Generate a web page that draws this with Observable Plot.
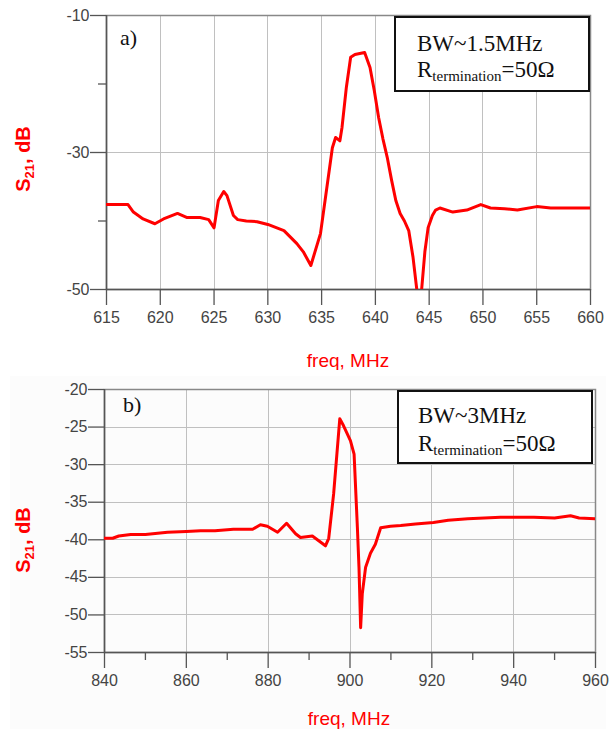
<!DOCTYPE html>
<html>
<head>
<meta charset="utf-8">
<script src="https://cdn.jsdelivr.net/npm/d3@7"></script>
<script src="https://cdn.jsdelivr.net/npm/@observablehq/plot@0.6"></script>
<style>
  html, body { margin: 0; padding: 0; background: #fff; }
  #wrap { position: relative; width: 613px; height: 729px; overflow: hidden; }
  #bg { position: absolute; left: 10px; top: 376px; width: 596px; height: 353px; background: #fcfcfc; }
  #wrap svg { position: absolute; left: 0; }
</style>
</head>
<body>
<div id="wrap"><div id="bg"></div></div>
<script>
// ---- Panel a) data ----
const freqA = [615, 617, 617.5, 618.4, 619.5, 620.3, 621.6, 622.5, 623.7, 624.5, 625, 625.4, 625.9, 626.2, 626.8, 627.2, 628, 629, 630, 631.5, 632.7, 633.3, 634, 634.9, 636, 636.3, 636.7, 636.9, 637.3, 637.7, 638.1, 639, 639.5, 639.9, 640.3, 640.7, 641.1, 641.5, 641.9, 642.3, 642.7, 643.1, 643.5, 643.85, 644.05, 644.3, 644.6, 644.9, 645.3, 645.6, 646, 647.2, 648.5, 649.8, 650.7, 652, 653.2, 655, 656.3, 658, 660];
const s21A  = [-37.6, -37.6, -38.7, -39.7, -40.4, -39.7, -38.9, -39.5, -39.5, -39.8, -41.0, -37.0, -35.7, -36.3, -39.2, -39.8, -40.0, -40.1, -40.5, -41.4, -43.3, -44.5, -46.5, -41.8, -29.3, -27.8, -28.3, -26.3, -20.5, -16.1, -15.7, -15.4, -17.6, -21.0, -24.9, -28.0, -30.7, -34.0, -37.0, -38.9, -40.0, -41.4, -45.3, -50.0, -65.0, -50.0, -44.5, -41.0, -39.2, -38.4, -38.1, -38.7, -38.4, -37.6, -38.1, -38.2, -38.4, -37.9, -38.1, -38.1, -38.1];
const xTicksA = [615, 620, 625, 630, 635, 640, 645, 650, 655, 660];
const yTicksA = [-10, -30, -50];
const yMinorA = [-20, -40];

// ---- Panel b) data ----
const freqB = [840, 842, 843.5, 846.4, 850, 855.4, 860, 863.5, 867, 871.5, 876.2, 878.1, 879.8, 882.3, 884.5, 886.7, 887.9, 890.8, 894, 894.8, 896, 897.5, 898.4, 900.1, 901, 901.8, 902.2, 902.6, 903, 903.8, 905, 906.2, 907.5, 909.9, 912.4, 916, 920.4, 924, 928.8, 936.8, 944.9, 950, 953.9, 956, 960];
const s21B  = [-39.8, -39.8, -39.5, -39.3, -39.3, -39.0, -38.9, -38.8, -38.8, -38.6, -38.6, -38.0, -38.2, -39.0, -37.8, -39.2, -39.7, -39.5, -40.8, -39.8, -33.9, -23.9, -24.8, -26.8, -28.6, -38.3, -43.7, -51.7, -47.2, -43.7, -41.8, -40.6, -38.4, -38.2, -38.1, -37.9, -37.7, -37.4, -37.2, -37.0, -37.0, -37.1, -36.8, -37.1, -37.2];
const xTicksB = [840, 860, 880, 900, 920, 940, 960];
const xMinorB = [850, 870, 890, 910, 930, 950];
const yTicksB = [-20, -25, -30, -35, -40, -45, -50, -55];

const dataA = freqA.map((f, i) => ({f, s: s21A[i]}));
const dataB = freqB.map((f, i) => ({f, s: s21B[i]}));

const FONT = "Liberation Sans, Arial, sans-serif";
const SERIF = "Liberation Serif, Times New Roman, serif";
const RED = "#ff0000";
const GRIDC = "#c0c0c0";
const AX = "#555";

function panel({data, xDomain, yDomain, xTicks, xMinor, yTicks, yMinor, height, margins}) {
  const marks = [
    Plot.frame({stroke: "#888", strokeWidth: 1.5, fill: "none"}),
    Plot.ruleX([xDomain[0]], {stroke: AX, strokeWidth: 1.5}),
    Plot.ruleY([yDomain[0]], {stroke: AX, strokeWidth: 1.5}),
    Plot.axisX({ticks: xTicks, tickSize: 16, tickPadding: 6, fontSize: 16, label: null, stroke: AX, strokeWidth: 1.3, fill: "#444"}),
    Plot.axisY({ticks: yTicks, tickSize: 16, tickPadding: 1, fontSize: 16, label: null, stroke: AX, strokeWidth: 1.3, fill: "#444", tickFormat: d => String(d)})
  ];
  if (xMinor) marks.push(Plot.axisX({ticks: xMinor, tickSize: 8, tickFormat: () => "", label: null, stroke: AX, strokeWidth: 1.3}));
  if (yMinor) marks.push(Plot.axisY({ticks: yMinor, tickSize: 8, tickFormat: () => "", label: null, stroke: AX, strokeWidth: 1.3}));
  marks.push(Plot.line(data, {x: "f", y: "s", stroke: RED, strokeWidth: 3, clip: true, strokeLinejoin: "round"}));
  return Plot.plot({
    width: 613, height, ...margins,
    style: {fontFamily: FONT, fontSize: "16px", color: "#444", background: "transparent"},
    x: {domain: xDomain}, y: {domain: yDomain},
    marks
  });
}

// gridlines placed through the plot's own x / y scales, inserted just under the curve
function addGrid(svg, xTicks, gridY, xDomain, yDomain) {
  const sx = svg.scale("x"), sy = svg.scale("y");
  const ns = "http://www.w3.org/2000/svg";
  const g = document.createElementNS(ns, "g");
  g.setAttribute("aria-label", "grid");
  const add = (x1, y1, x2, y2) => {
    const l = document.createElementNS(ns, "line");
    l.setAttribute("x1", x1); l.setAttribute("y1", y1);
    l.setAttribute("x2", x2); l.setAttribute("y2", y2);
    l.setAttribute("stroke", GRIDC); l.setAttribute("stroke-width", "1.2");
    l.setAttribute("shape-rendering", "crispEdges");
    g.appendChild(l);
  };
  const yTop = sy.apply(yDomain[1]), yBot = sy.apply(yDomain[0]);
  const xL = sx.apply(xDomain[0]), xR = sx.apply(xDomain[1]);
  xTicks.forEach(v => { const x = Math.round(sx.apply(v)) + 0.5; add(x, yTop, x, yBot); });
  gridY.forEach(v => { const y = Math.round(sy.apply(v)) + 0.5; add(xL, y, xR, y); });
  const frame = svg.querySelector('[aria-label="frame"]');
  if (frame) svg.insertBefore(g, frame); else svg.appendChild(g);
}

function decorate(svg, o) {
  const s = d3.select(svg);
  const yl = s.append("text")
    .attr("transform", `translate(${o.ylx},${o.yly}) rotate(-90)`)
    .attr("text-anchor", "middle")
    .attr("fill", RED).attr("font-family", FONT).attr("font-weight", "bold").attr("font-size", 20);
  yl.append("tspan").text("S");
  yl.append("tspan").attr("font-size", 13).attr("dy", 4).text("21");
  yl.append("tspan").attr("dy", -4).text(", dB");
  s.append("text").attr("x", o.xlx).attr("y", o.xly).attr("text-anchor", "middle")
    .attr("fill", RED).attr("font-family", FONT).attr("font-size", 19).text("freq, MHz");
  s.append("text").attr("x", o.tagx).attr("y", o.tagy).attr("text-anchor", "start")
    .attr("font-family", SERIF).attr("font-size", 22).attr("fill", "#111").text(o.tag);
  s.append("rect").attr("x", o.bx).attr("y", o.by).attr("width", o.bw).attr("height", o.bh)
    .attr("fill", "#fff").attr("stroke", "#111").attr("stroke-width", 2);
  s.append("text").attr("x", o.tx).attr("y", o.t1).attr("text-anchor", "start")
    .attr("font-family", SERIF).attr("font-size", 23).attr("fill", "#111").text(o.bw1);
  const t2 = s.append("text").attr("x", o.tx).attr("y", o.t2).attr("text-anchor", "start")
    .attr("font-family", SERIF).attr("font-size", 23).attr("fill", "#111");
  t2.append("tspan").text("R");
  t2.append("tspan").attr("font-size", 15).attr("dy", 4).text("termination");
  t2.append("tspan").attr("dy", -4).text("=50Ω");
}

const wrap = document.getElementById("wrap");

const cfgA = {data: dataA, xDomain: [615, 660], yDomain: [-50, -10],
  xTicks: xTicksA, xMinor: null, yTicks: yTicksA, yMinor: yMinorA,
  height: 370, margins: {marginTop: 15, marginBottom: 81, marginLeft: 106, marginRight: 23}};
const cfgB = {data: dataB, xDomain: [840, 960], yDomain: [-55, -20],
  xTicks: xTicksB, xMinor: xMinorB, yTicks: yTicksB, yMinor: null,
  height: 359, margins: {marginTop: 19, marginBottom: 77, marginLeft: 104, marginRight: 18}};

const svgA = panel(cfgA); svgA.style.top = "0px"; wrap.appendChild(svgA);
addGrid(svgA, xTicksA, [-30], cfgA.xDomain, cfgA.yDomain);
decorate(svgA, {ylx: 30, yly: 159, xlx: 348, xly: 367, tag: "a)", tagx: 120, tagy: 45,
  bx: 395, by: 17, bw: 194, bh: 74, tx: 417, t1: 51, t2: 77, bw1: "BW~1.5MHz"});

const svgB = panel(cfgB); svgB.style.top = "370px"; wrap.appendChild(svgB);
addGrid(svgB, xTicksB, yTicksB.slice(1, -1), cfgB.xDomain, cfgB.yDomain);
decorate(svgB, {ylx: 30, yly: 170, xlx: 349, xly: 355, tag: "b)", tagx: 123, tagy: 42,
  bx: 398, by: 21, bw: 194, bh: 72, tx: 418, t1: 53, t2: 81, bw1: "BW~3MHz"});
</script>
</body>
</html>
